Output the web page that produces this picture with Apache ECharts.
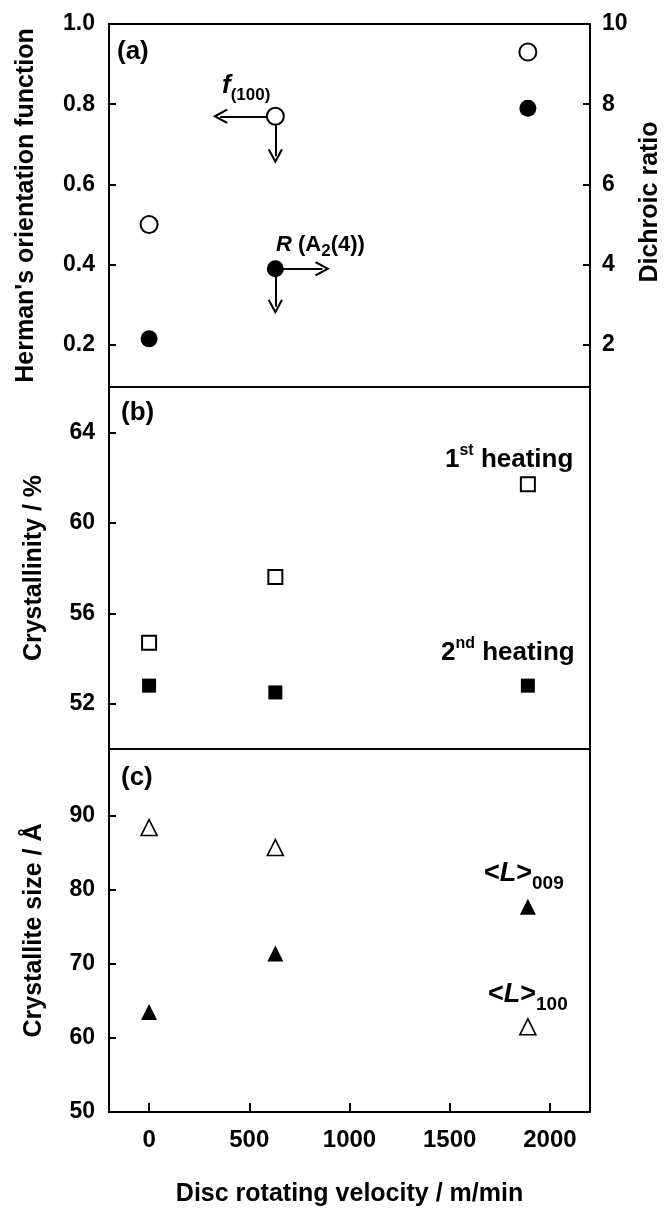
<!DOCTYPE html>
<html><head><meta charset="utf-8">
<script src="https://cdn.jsdelivr.net/npm/echarts@6/dist/echarts.min.js"></script>
<style>html,body{margin:0;padding:0;background:#fff}#c{width:664px;height:1208px}</style>
</head><body><div id="c"></div>
<script>
// ---- data ----
const velocity = [0, 630, 1890];                 // m/min
const orientationF100 = [0.50, 0.77, 0.93];      // Herman's orientation function f(100), open circles
const dichroicRatio = [2.15, 3.9, 7.9];          // R (A2(4)), filled circles (right axis)
const crystallinity1st = [54.7, 57.6, 61.7];     // 1st heating, open squares
const crystallinity2nd = [52.8, 52.5, 52.8];     // 2nd heating, filled squares
const sizeL100 = [88.4, 85.7, 61.5];             // <L>100, open triangles
const sizeL009 = [63.5, 71.4, 77.7];             // <L>009, filled triangles

const xTicks = [0, 500, 1000, 1500, 2000];
const orientTicks = [0.2, 0.4, 0.6, 0.8, 1.0];
const dichroicTicks = [2, 4, 6, 8, 10];
const crystTicks = [52, 56, 60, 64];
const sizeTicks = [50, 60, 70, 80, 90];

// arrow annotations: [from, to] in data units
const f100Arrows = [[[630, 0.77], [355, 0.77]], [[630, 0.77], [630, 0.67]]];
const rArrows = [[[630, 3.9], [865, 3.9]], [[630, 3.9], [630, 2.95]]];

const FONT = "'Liberation Sans', Arial, sans-serif";
const chart = echarts.init(document.getElementById('c'), null, {renderer: 'canvas'});
const pts = arr => velocity.map((v, i) => [v, arr[i]]);

const grids = [
  {left: 109, top: 24, width: 481, height: 363},
  {left: 109, top: 387, width: 481, height: 362},
  {left: 109, top: 749, width: 481, height: 363}
].map(g => Object.assign(g, {show: true, borderColor: '#000', borderWidth: 2, backgroundColor: 'rgba(0,0,0,0)'}));

const nameStyle = {fontSize: 25, fontWeight: 'bold', color: '#000', fontFamily: FONT};

function xAx(gridIndex, showLabels) {
  return {
    type: 'value', gridIndex, min: -200, max: 2200,
    splitLine: {show: false}, axisLine: {show: false, onZero: false},
    axisTick: {show: showLabels, inside: true, length: 9, customValues: xTicks, lineStyle: {color: '#000', width: 2}},
    axisLabel: {show: showLabels, customValues: xTicks, color: '#000', fontWeight: 'bold', fontSize: 24, fontFamily: FONT, margin: 16,
      formatter: v => String(v)},
    name: showLabels ? 'Disc rotating velocity / m/min' : '', nameLocation: 'middle', nameGap: 70, nameTextStyle: nameStyle
  };
}
function yAx(gridIndex, min, max, ticks, extra) {
  return Object.assign({
    type: 'value', gridIndex, min, max,
    splitLine: {show: false}, axisLine: {show: false, onZero: false},
    axisTick: {show: true, inside: true, length: 7, customValues: ticks, lineStyle: {color: '#000', width: 2}},
    axisLabel: {show: true, customValues: ticks, color: '#000', fontWeight: 'bold', fontSize: 23, fontFamily: FONT, margin: 14},
    nameLocation: 'middle', nameRotate: 90, nameTextStyle: nameStyle
  }, extra);
}

const ARROW = 'path://M0,0 L7,11 L5.4,12 L0,3.4 L-5.4,12 L-7,11 Z';
function arrowLines(list) {
  return {
    silent: true, z: 1, animation: false,
    symbol: ['none', ARROW], symbolSize: 15,
    lineStyle: {color: '#000', width: 2, type: 'solid', opacity: 1},
    itemStyle: {color: '#000'},
    label: {show: false}, emphasis: {disabled: true},
    data: list.map(([a, b]) => [{coord: a}, {coord: b}])
  };
}

const yAxes = [
  yAx(0, 0.095, 1.0, orientTicks, {name: "Herman's orientation function", nameGap: 70,
    axisLabel: {show: true, customValues: orientTicks, color: '#000', fontWeight: 'bold', fontSize: 23, fontFamily: FONT, margin: 14, formatter: v => v.toFixed(1)}}),
  yAx(0, 0.95, 10, dichroicTicks, {position: 'right', axisLabel: {show: true, customValues: dichroicTicks, color: '#000', fontWeight: 'bold', fontSize: 23, fontFamily: FONT, margin: 12}}),
  yAx(1, 50, 66, crystTicks, {name: 'Crystallinity / %', nameGap: 62}),
  yAx(2, 50, 99, sizeTicks, {name: 'Crystallite size / Å', nameGap: 62})
];

const openStyle = {color: '#fff', borderColor: '#000', borderWidth: 2, opacity: 1};
const fillStyle = {color: '#000', borderColor: '#000', borderWidth: 0, opacity: 1};

const series = [
  {type: 'scatter', name: 'f(100)', xAxisIndex: 0, yAxisIndex: 0, z: 5, symbol: 'circle', symbolSize: 17,
   itemStyle: openStyle, data: pts(orientationF100), markLine: arrowLines(f100Arrows)},
  {type: 'scatter', name: 'R (A2(4))', xAxisIndex: 0, yAxisIndex: 1, z: 5, symbol: 'circle', symbolSize: 17,
   itemStyle: fillStyle, data: pts(dichroicRatio), markLine: arrowLines(rArrows)},
  {type: 'scatter', name: '1st heating', xAxisIndex: 1, yAxisIndex: 2, z: 5, symbol: 'rect', symbolSize: 14,
   itemStyle: openStyle, data: pts(crystallinity1st)},
  {type: 'scatter', name: '2nd heating', xAxisIndex: 1, yAxisIndex: 2, z: 5, symbol: 'rect', symbolSize: 14,
   itemStyle: fillStyle, data: pts(crystallinity2nd)},
  {type: 'scatter', name: '<L>100', xAxisIndex: 2, yAxisIndex: 3, z: 5, symbol: 'triangle', symbolSize: 16,
   itemStyle: {color: '#fff', borderColor: '#000', borderWidth: 1.6, opacity: 1}, data: pts(sizeL100)},
  {type: 'scatter', name: '<L>009', xAxisIndex: 2, yAxisIndex: 3, z: 5, symbol: 'triangle', symbolSize: 16,
   itemStyle: fillStyle, data: pts(sizeL009)}
];

const B = w => `bold ${w}px ${FONT}`;
const BI = w => `italic bold ${w}px ${FONT}`;
function txt(x, y, text, font) {
  return {type: 'text', x, y, z: 10, style: {text, font, fill: '#000', verticalAlign: 'middle'}};
}
function rich(x, y, text, richDef) {
  return {type: 'text', x, y, z: 10, style: {text, fill: '#000', verticalAlign: 'middle', rich: richDef}};
}

const graphic = [
  txt(117, 52, '(a)', B(26)),
  txt(121, 413, '(b)', B(26)),
  txt(121, 778, '(c)', B(26)),
  rich(222, 86, '{f|f}{s|(100)}', {
    f: {font: BI(26), lineHeight: 36, fill: '#000'},
    s: {font: B(17), lineHeight: 14, verticalAlign: 'bottom', fill: '#000'}
  }),
  rich(276, 245, '{i|R}{m| (A}{s|2}{m|(4))}', {
    i: {font: BI(22), lineHeight: 30, fill: '#000'},
    m: {font: B(22), lineHeight: 30, fill: '#000'},
    s: {font: B(17), lineHeight: 16, verticalAlign: 'bottom', fill: '#000'}
  }),
  rich(445, 460, '{m|1}{p|st}{m| heating}', {
    m: {font: B(26), lineHeight: 34, fill: '#000'},
    p: {font: B(16), lineHeight: 14, verticalAlign: 'top', fill: '#000'}
  }),
  rich(441, 653, '{m|2}{p|nd}{m| heating}', {
    m: {font: B(26), lineHeight: 34, fill: '#000'},
    p: {font: B(16), lineHeight: 14, verticalAlign: 'top', fill: '#000'}
  }),
  rich(484, 874, '{m|<}{i|L}{m|>}{s|009}', {
    m: {font: B(27), lineHeight: 38, fill: '#000'},
    i: {font: BI(27), lineHeight: 38, fill: '#000'},
    s: {font: B(19), lineHeight: 14, verticalAlign: 'bottom', fill: '#000'}
  }),
  rich(488, 995, '{m|<}{i|L}{m|>}{s|100}', {
    m: {font: B(27), lineHeight: 38, fill: '#000'},
    i: {font: BI(27), lineHeight: 38, fill: '#000'},
    s: {font: B(19), lineHeight: 14, verticalAlign: 'bottom', fill: '#000'}
  }),
  {type: 'text', x: 650, y: 202, rotation: Math.PI / 2, z: 10,
   style: {text: 'Dichroic ratio', font: B(25), fill: '#000', align: 'center', verticalAlign: 'middle'}}
];

chart.setOption({
  animation: false,
  backgroundColor: '#fff',
  grid: grids,
  xAxis: [xAx(0, false), xAx(1, false), xAx(2, true)],
  yAxis: yAxes,
  series,
  graphic
});
</script>
</body></html>
